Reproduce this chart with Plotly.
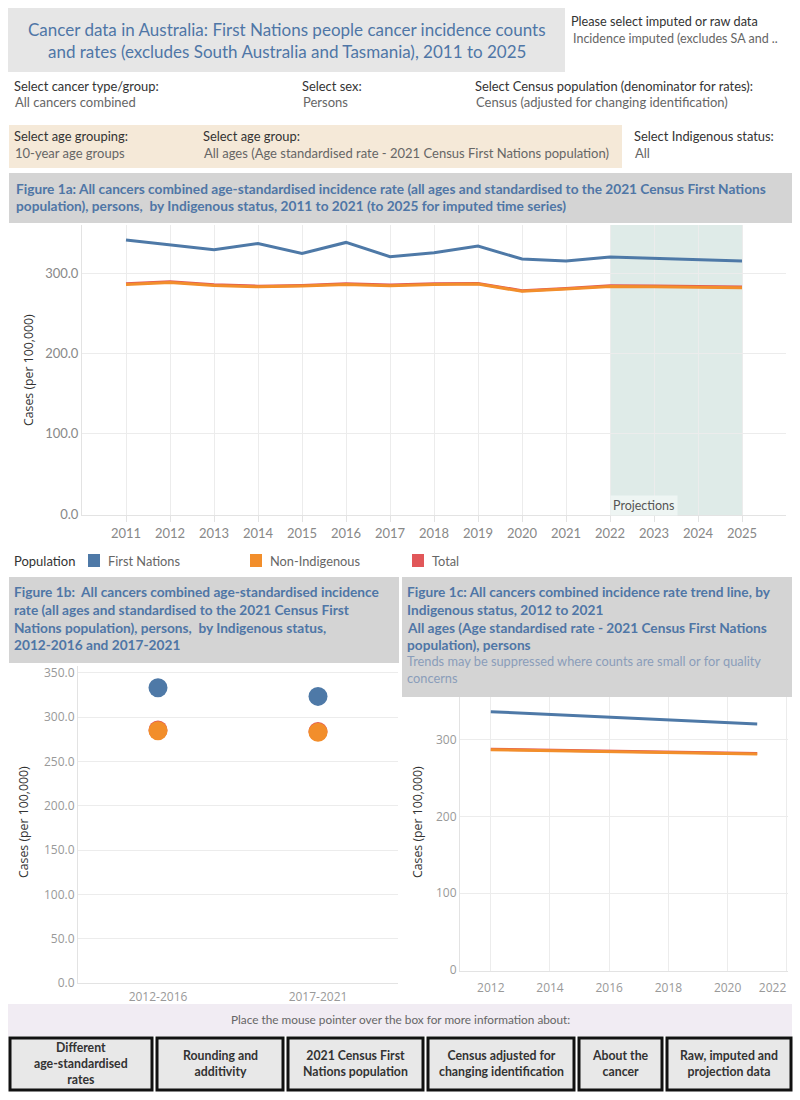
import plotly.graph_objects as go

W, H = 800, 1100


def px(x):
    return x / W


def py(y):
    return 1 - y / H


# ---------------- data ----------------
years = list(range(2011, 2026))
fn_rate = [341.2, 335.0, 329.2, 337.0, 324.7, 338.3, 320.6, 325.5, 333.7, 317.7, 315.2, 320.2, 318.5, 316.9, 315.2]
ni_rate = [286.0, 288.5, 284.8, 283.1, 284.0, 286.0, 284.4, 286.0, 286.4, 277.4, 280.2, 283.5, 283.1, 282.7, 281.9]
total_rate = [286.8, 289.3, 285.6, 283.9, 284.8, 286.8, 285.2, 286.9, 287.3, 278.3, 281.1, 284.4, 284.0, 283.6, 282.8]
projection_start, projection_end = 2022, 2025

periods = ["2012-2016", "2017-2021"]
fn_period = [333.3, 323.5]
ni_period = [284.8, 283.0]
total_period = [285.6, 283.8]

trend_years = [2012, 2021]
fn_trend = [335.9, 319.9]
ni_trend = [286.6, 281.0]
total_trend = [287.2, 281.6]
trend_ticks = [2012, 2014, 2016, 2018, 2020, 2022]
trend_ticktext = ["2012", "2014", "2016", "2018", "2020", ""]
trend_last_tick = [2022]

series_names = ["First Nations", "Non-Indigenous", "Total"]
buttons = [
    "Different<br>age-standardised<br>rates",
    "Rounding and<br>additivity",
    "2021 Census First<br>Nations population",
    "Census adjusted for<br>changing identification",
    "About the<br>cancer",
    "Raw, imputed and<br>projection data",
]

# ---------------- styles ----------------
C_FN, C_NI, C_TOT = "#4e79a7", "#f28e2b", "#e15759"
BLUE_TXT = "#4f76a6"
TF = "Lato"
GRID = "#ececec"

fig = go.Figure()

# Figure 1a lines
fig.add_trace(go.Scatter(x=years, y=fn_rate, mode="lines", line=dict(color=C_FN, width=3),
                         name=series_names[0], xaxis="x", yaxis="y", showlegend=False))
fig.add_trace(go.Scatter(x=years, y=total_rate, mode="lines", line=dict(color=C_TOT, width=3),
                         name=series_names[2], xaxis="x", yaxis="y", showlegend=False))
fig.add_trace(go.Scatter(x=years, y=ni_rate, mode="lines", line=dict(color=C_NI, width=3),
                         name=series_names[1], xaxis="x", yaxis="y", showlegend=False))

# Figure 1b points
fig.add_trace(go.Scatter(x=periods, y=fn_period, mode="markers", marker=dict(color=C_FN, size=19),
                         name=series_names[0], xaxis="x2", yaxis="y2", showlegend=False))
fig.add_trace(go.Scatter(x=periods, y=total_period, mode="markers", marker=dict(color=C_TOT, size=19),
                         name=series_names[2], xaxis="x2", yaxis="y2", showlegend=False))
fig.add_trace(go.Scatter(x=periods, y=ni_period, mode="markers", marker=dict(color=C_NI, size=19),
                         name=series_names[1], xaxis="x2", yaxis="y2", showlegend=False))

# Figure 1c trend lines
fig.add_trace(go.Scatter(x=trend_years, y=fn_trend, mode="lines", line=dict(color=C_FN, width=3),
                         name=series_names[0], xaxis="x3", yaxis="y3", showlegend=False))
fig.add_trace(go.Scatter(x=trend_years, y=total_trend, mode="lines", line=dict(color=C_TOT, width=3),
                         name=series_names[2], xaxis="x3", yaxis="y3", showlegend=False))
fig.add_trace(go.Scatter(x=trend_years, y=ni_trend, mode="lines", line=dict(color=C_NI, width=3),
                         name=series_names[1], xaxis="x3", yaxis="y3", showlegend=False))
# invisible carrier for the overlay axis holding the last (edge) tick label of 1c
fig.add_trace(go.Scatter(x=trend_years, y=fn_trend, mode="lines", line=dict(width=0), opacity=0,
                         hoverinfo="skip", xaxis="x4", yaxis="y3", showlegend=False))

shapes = []
ann = []


def rect(x0, y0, x1, y1, fill, line_color=None, lw=0):
    shapes.append(dict(type="rect", xref="paper", yref="paper",
                       x0=px(x0), x1=px(x1), y0=py(y1), y1=py(y0),
                       fillcolor=fill, line=dict(color=line_color or fill, width=lw), layer="below"))


def text(x, y, s, size=12, color="#333", bold=False, anchor="left", family=TF, angle=0):
    ann.append(dict(xref="paper", yref="paper", x=px(x), y=py(y), text=("<b>%s</b>" % s) if bold else s,
                    showarrow=False, xanchor=anchor, yanchor="middle", textangle=angle,
                    font=dict(family=family, size=size, color=color), align="center" if anchor == "center" else "left"))


# Title box
rect(8, 8, 565, 72, "#e6e6e6")
text(287, 29, "Cancer data in Australia: First Nations people cancer incidence counts", 17, BLUE_TXT, anchor="center")
text(287, 51, "and rates (excludes South Australia and Tasmania), 2011 to 2025", 17, BLUE_TXT, anchor="center")
text(569, 21, "Please select imputed or raw data", 12.7, "#333")
text(571, 39, "Incidence imputed (excludes SA and ..", 12.5, "#666")

# Filter row 1
text(12, 86, "Select cancer type/group:", 12.9, "#333")
text(13, 102, "All cancers combined", 13, "#666")
text(300, 86, "Select sex:", 12.9, "#333")
text(301, 102, "Persons", 13, "#666")
text(473, 86, "Select Census population (denominator for rates):", 12.9, "#333")
text(474, 102, "Census (adjusted for changing identification)", 13, "#666")

# Filter row 2
rect(9, 125, 622, 168, "#f5e9d8")
text(12, 136, "Select age grouping:", 12.9, "#333")
text(13, 153, "10-year age groups", 13, "#666")
text(201, 136, "Select age group:", 12.9, "#333")
text(202, 153, "All ages (Age standardised rate - 2021 Census First Nations population)", 13, "#666")
text(632, 136, "Select Indigenous status:", 12.9, "#333")
text(633, 153, "All", 13, "#666")

# Fig 1a header
rect(9, 173, 792, 223, "#d4d4d4")
text(14, 188, "Figure 1a: All cancers combined age-standardised incidence rate (all ages and standardised to the 2021 Census First Nations", 13.7, BLUE_TXT, bold=True)
text(14, 206, "population), persons,  by Indigenous status, 2011 to 2021 (to 2025 for imputed time series)", 13.7, BLUE_TXT, bold=True)

# Projections shading
shapes.append(dict(type="rect", xref="x", yref="y domain", x0=projection_start, x1=projection_end, y0=0, y1=1,
                   fillcolor="#dfebe8", line=dict(width=0), layer="below"))
ann.append(dict(xref="x", yref="paper", x=projection_start, y=py(506), text="Projections", showarrow=False,
                xanchor="left", yanchor="middle", bgcolor="#eef5f3", borderpad=2,
                font=dict(family=TF, size=12.5, color="#555")))

# Axis titles
text(28, 370, "Cases (per 100,000)", 12.3, "#333", family="Open Sans", anchor="center", angle=-90)
text(23, 822, "Cases (per 100,000)", 12.3, "#333", family="Open Sans", anchor="center", angle=-90)
text(417, 822, "Cases (per 100,000)", 12.3, "#333", family="Open Sans", anchor="center", angle=-90)

# Legend
text(12, 561, "Population", 13, "#333")
for xs, col, name in [(88, C_FN, series_names[0]), (250, C_NI, series_names[1]), (412, C_TOT, series_names[2])]:
    rect(xs, 554, xs + 12, 567, col)
    text(xs + 18, 561, name, 12.8, "#666")

# Fig 1b header
rect(9, 577, 399, 663, "#d4d4d4")
for i, s in enumerate(["Figure 1b:  All cancers combined age-standardised incidence",
                       "rate (all ages and standardised to the 2021 Census First",
                       "Nations population), persons,  by Indigenous status,",
                       "2012-2016 and 2017-2021"]):
    text(12, 591 + 18 * i, s, 13.7, BLUE_TXT, bold=True)

# Fig 1c header
rect(402, 577, 792, 697, "#d4d4d4")
for i, s in enumerate(["Figure 1c: All cancers combined incidence rate trend line, by",
                       "Indigenous status, 2012 to 2021",
                       "All ages (Age standardised rate - 2021 Census First Nations",
                       "population), persons"]):
    text(405, 591 + 18 * i, s, 13.7, BLUE_TXT, bold=True)
text(405, 661, "Trends may be suppressed where counts are small or for quality", 12.8, "#8a9dba")
text(405, 678, "concerns", 12.8, "#8a9dba")

# Bottom info area
rect(8, 1004, 792, 1036, "#f1ecf3")
text(400, 1019, "Place the mouse pointer over the box for more information about:", 11.8, "#666", anchor="center")
bx = [(10, 152), (157, 283), (288, 423), (428, 574), (579, 662), (667, 791)]
for (x0, x1), lab in zip(bx, buttons):
    rect(x0, 1038, x1, 1090, "#e8e8e8", "#111", 3)
    text((x0 + x1) / 2, 1063, lab, 12.3, "#333", bold=True, anchor="center")

tick_font_a = dict(family=TF, size=13, color="#888")
tick_font_b = dict(family="Open Sans", size=12, color="#999")
trend_range = [2010.96, 2022.04]

fig.update_layout(
    width=W, height=H, margin=dict(l=0, r=0, t=0, b=0, autoexpand=False),
    paper_bgcolor="white", plot_bgcolor="rgba(0,0,0,0)",
    showlegend=False, shapes=shapes, annotations=ann,
    xaxis=dict(domain=[px(82), px(786)], anchor="y", range=[2010, 2026], tickvals=years, automargin=False,
               showgrid=True, gridcolor=GRID, zeroline=False, showline=True, linecolor="#e3e3e3",
               ticks="outside", ticklen=6, tickcolor="#e3e3e3", tickfont=tick_font_a, fixedrange=True),
    yaxis=dict(domain=[py(515), py(225)], anchor="x", range=[-1, 360], tickvals=[0, 100, 200, 300],
               tickformat=".1f", showgrid=True, gridcolor=GRID, zeroline=False, showline=True, automargin=False,
               linecolor="#e3e3e3", tickfont=tick_font_a, ticks="", fixedrange=True),
    xaxis2=dict(domain=[px(78), px(398)], anchor="y2", type="category", range=[-0.5, 1.5],
                showgrid=False, zeroline=False, showline=True, linecolor="#e3e3e3", automargin=False,
                ticks="outside", ticklen=3, tickcolor="rgba(0,0,0,0)",
                tickfont=tick_font_b, fixedrange=True),
    yaxis2=dict(domain=[py(983), py(666)], anchor="x2", range=[0, 357.8], automargin=False,
                tickvals=[0, 50, 100, 150, 200, 250, 300, 350], tickformat=".1f",
                showgrid=True, gridcolor=GRID, zeroline=False, showline=True, linecolor="#e3e3e3",
                tickfont=tick_font_b, fixedrange=True),
    xaxis3=dict(domain=[px(460), px(788)], anchor="y3", range=trend_range, automargin=False,
                tickvals=trend_ticks, ticktext=trend_ticktext,
                ticks="outside", ticklen=6, tickcolor="rgba(0,0,0,0)",
                showgrid=True, gridcolor=GRID,
                zeroline=False, showline=True, linecolor="#e3e3e3", tickfont=tick_font_b, fixedrange=True),
    xaxis4=dict(domain=[px(460), px(788)], anchor="y3", overlaying="x3", side="bottom", range=trend_range,
                automargin=False, tickvals=trend_last_tick, ticklabelposition="outside left",
                ticks="outside", ticklen=6, ticklabelstandoff=6, tickcolor="rgba(0,0,0,0)",
                showgrid=False, zeroline=False,
                showline=False, tickfont=tick_font_b, fixedrange=True),
    yaxis3=dict(domain=[py(971), py(697)], anchor="x3", range=[-1, 355], tickvals=[0, 100, 200, 300],
                showgrid=True, gridcolor=GRID, zeroline=False, showline=True, linecolor="#e3e3e3",
                automargin=False, tickfont=tick_font_b, fixedrange=True),
)

fig.write_html("out.html")
